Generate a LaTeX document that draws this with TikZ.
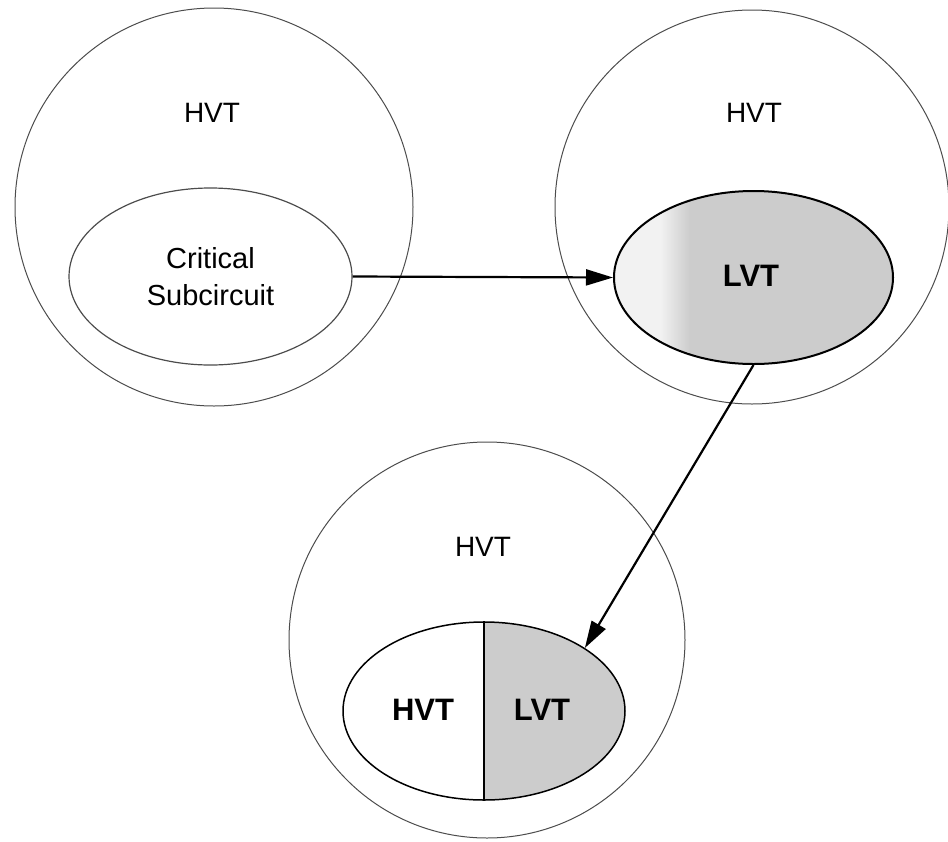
\documentclass[tikz,border=0pt]{standalone}
\usepackage{fontspec}
\setmainfont{Liberation Sans}
\usetikzlibrary{shapes.geometric,arrows.meta}
\definecolor{lvtgray}{gray}{0.8}
\definecolor{lvtlight}{gray}{0.95}
\definecolor{rimgray}{gray}{0.3}
\tikzset{
  domain/.style={circle, draw=rimgray, line width=1pt, inner sep=0pt, minimum size=#1},
  block/.style={ellipse, draw=black, inner sep=0pt},
  lbl/.style={font=\fontsize{28}{32}\selectfont, inner sep=0pt},
  boldlbl/.style={font=\fontsize{31}{34}\selectfont\bfseries, inner sep=0pt},
  flow/.style={line width=2.2pt, -{Triangle[length=27pt,width=16pt]}},
}
\begin{document}
\begin{tikzpicture}[x=1pt,y=-1pt]
\useasboundingbox (0,0) rectangle (948,841);

% three threshold-voltage domains
\node[domain=398pt] (d1) at (214,207) {};
\node[domain=394pt] (d2) at (752,207) {};
\node[domain=396pt] (d3) at (487,640) {};

\node[lbl] (h1) at (212,113) {HVT};
\node[lbl] (h2) at (754,113) {HVT};
\node[lbl] (h3) at (483,547) {HVT};

% step 1: the critical subcircuit
\node[block, draw=rimgray, line width=1.2pt, minimum width=283pt, minimum height=177pt,
      align=center, font=\fontsize{29}{37}\selectfont] (cs) at (210.5,276.5)
      {Critical\\Subcircuit};

% step 2: subcircuit moved to LVT
\begin{scope}
  \clip (753.5,277.5) ellipse [x radius=139.5, y radius=86.5];
  \fill[lvtlight] (612,180) rectangle (660,370);
  \shade[left color=lvtlight, right color=lvtgray] (660,180) rectangle (690,370);
  \fill[lvtgray] (690,180) rectangle (895,370);
\end{scope}
\node[block, line width=2pt, minimum width=279pt, minimum height=173pt] (lvt) at (753.5,277.5) {};
\node[boldlbl] (l1) at (751,276) {LVT};

% step 3: subcircuit split between HVT and LVT
\begin{scope}
  \clip (484,711) ellipse [x radius=141, y radius=89];
  \fill[lvtgray] (484,615) rectangle (630,805);
\end{scope}
\node[block, line width=1.5pt, minimum width=282pt, minimum height=178pt] (mix) at (484,711) {};
\draw[line width=2pt] (mix.north) -- (mix.south);
\node[boldlbl] (h4) at (423,710) {HVT};
\node[boldlbl] (l2) at (542,710) {LVT};

% transitions
\draw[flow] (cs.east) -- (lvt.west);
\draw[flow] (lvt.south) -- (mix.32.4);
\end{tikzpicture}
\end{document}
